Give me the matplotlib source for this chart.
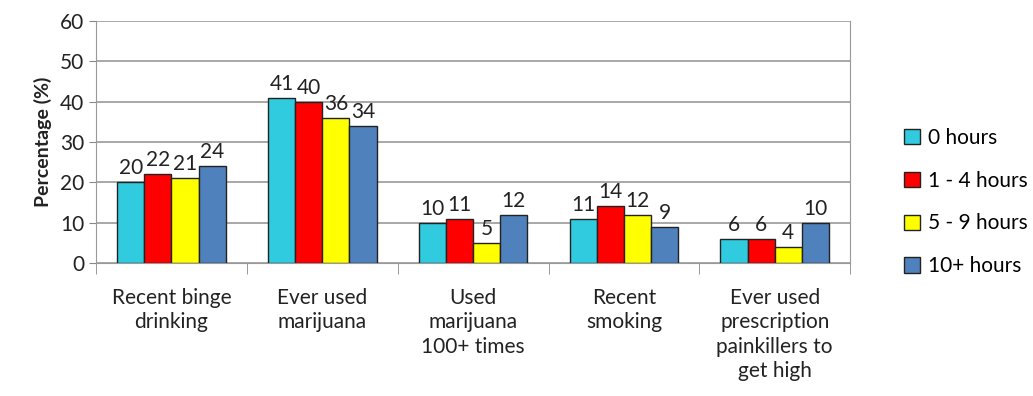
import numpy as np
import matplotlib.pyplot as plt

categories = ['Recent binge\ndrinking', 'Ever used\nmarijuana', 'Used\nmarijuana\n100+ times',
              'Recent\nsmoking', 'Ever used\nprescription\npainkillers to\nget high']
series = ['0 hours', '1 - 4 hours', '5 - 9 hours', '10+ hours']
values = [
    [20, 41, 10, 11, 6],
    [22, 40, 11, 14, 6],
    [21, 36, 5, 12, 4],
    [24, 34, 12, 9, 10],
]
colors = ['#31CBDF', '#FF0000', '#FFFF00', '#4F81BD']

plt.rcParams['font.family'] = ['Lato', 'DejaVu Sans']

fig = plt.figure(figsize=(10.33, 3.96), dpi=100)
ax = fig.add_axes([0.093, 0.336, 0.730, 0.611])

x = np.arange(len(categories))
w = 0.18
for i, (name, vals, c) in enumerate(zip(series, values, colors)):
    pos = x + (i - 1.5) * w
    bars = ax.bar(pos, vals, w, color=c, edgecolor='#222222', linewidth=1, label=name, zorder=3)
    for b, v in zip(bars, vals):
        ax.text(b.get_x() + b.get_width() / 2, v + 1.0, str(v), ha='center', va='bottom',
                fontsize=15, color='#222222')

ax.set_xlim(-0.5, len(categories) - 0.5)
ax.set_ylim(0, 60)
ax.set_yticks(range(0, 61, 10))
ax.tick_params(axis='y', labelsize=15, length=5, color='#888888', colors='#222222')
ax.set_xticks(x)
ax.set_xticklabels(categories, fontsize=15, color='#222222', linespacing=1.28)
ax.tick_params(axis='x', length=0, pad=18)
ax.set_xticks(np.arange(-0.5, len(categories), 1), minor=True)
ax.tick_params(axis='x', which='minor', length=8, color='#888888')
ax.grid(axis='y', color='#999999', linewidth=1.2, zorder=0)
for s in ax.spines.values():
    s.set_color('#999999')
ax.spines['top'].set_visible(False)
ax.set_ylabel('Percentage (%)', fontsize=14, fontweight='bold', color='#222222', labelpad=6)

fig.legend(loc='center left', bbox_to_anchor=(0.857, 0.49), frameon=False, fontsize=15,
           handlelength=0.75, handleheight=0.75, handletextpad=0.4, labelspacing=1.1)

fig.savefig('out.png', dpi=100, facecolor='white')
